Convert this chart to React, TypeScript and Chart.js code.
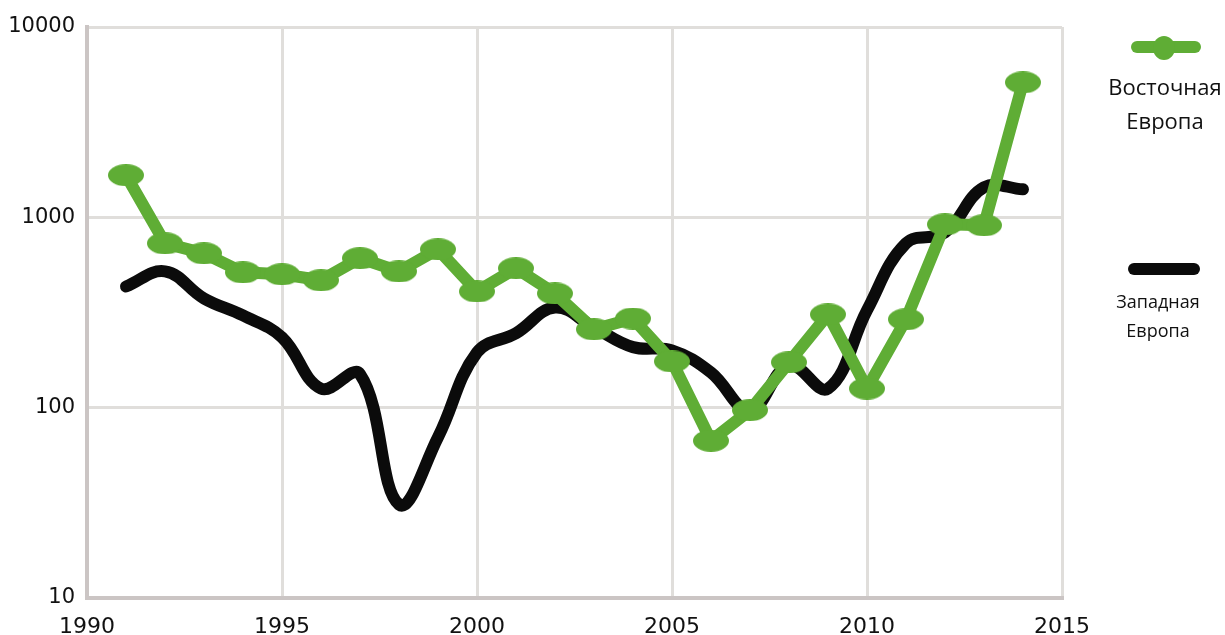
import React, { useEffect, useRef } from "react";
import { Chart, registerables } from "chart.js";

Chart.register(...registerables);

const years = [1991, 1992, 1993, 1994, 1995, 1996, 1997, 1998, 1999, 2000, 2001, 2002, 2003, 2004, 2005, 2006, 2007, 2008, 2009, 2010, 2011, 2012, 2013, 2014];
const eastEurope = [1665, 730, 647, 514, 502, 467, 610, 520, 679, 408, 540, 398, 258, 294, 175, 67, 97, 173, 309, 126, 291, 919, 908, 5117];
const westEurope = [433, 520, 375, 305, 234, 126, 150, 31, 70, 195, 246, 336, 264, 208, 200, 153, 97, 167, 126, 325, 730, 834, 1437, 1404];
const yTicks = [10, 100, 1000, 10000];
const eastLabel = ["Восточная", "Европа"];
const westLabel = ["Западная", "Европа"];

const GREEN = "#5fad35";
const BLACK = "#0b0b0b";
const TICK_FONT = "'DejaVu Sans', sans-serif";
const FONT = "'Open Sans', 'Noto Sans', sans-serif";

function makeEllipse(w: number, h: number, color: string) {
  const c = document.createElement("canvas");
  c.width = w;
  c.height = h;
  const ctx = c.getContext("2d")!;
  ctx.fillStyle = color;
  ctx.beginPath();
  ctx.ellipse(w / 2, h / 2, w / 2, h / 2, 0, 0, Math.PI * 2);
  ctx.fill();
  return c;
}

export default function App() {
  const ref = useRef<HTMLCanvasElement>(null);

  useEffect(() => {
    document.body.style.margin = "0";
    const marker = makeEllipse(36, 22, GREEN);
    const chart = new Chart(ref.current!, {
      type: "line",
      data: {
        datasets: [
          {
            label: "Восточная Европа",
            data: years.map((y, i) => ({ x: y, y: eastEurope[i] })),
            borderColor: GREEN,
            backgroundColor: GREEN,
            borderWidth: 12,
            tension: 0,
            pointStyle: marker as any,
            pointRadius: 12,
            borderJoinStyle: "round",
            borderCapStyle: "round",
          },
          {
            label: "Западная Европа",
            data: years.map((y, i) => ({ x: y, y: westEurope[i] })),
            borderColor: BLACK,
            backgroundColor: BLACK,
            borderWidth: 12,
            tension: 0.4,
            pointRadius: 0,
            borderJoinStyle: "round",
            borderCapStyle: "round",
          },
        ],
      },
      options: {
        animation: false,
        responsive: false,
        layout: { padding: { left: 0, right: 163, top: 27, bottom: 0 } },
        plugins: { legend: { display: false }, tooltip: { enabled: false } },
        scales: {
          x: {
            type: "linear",
            min: 1990,
            max: 2015,
            afterFit: (s: any) => {
              s.height = 37;
            },
            ticks: {
              stepSize: 5,
              padding: 16,
              color: "#111",
              font: { family: TICK_FONT, size: 22 },
              callback: (v: any) => String(v),
              maxRotation: 0,
            },
            grid: { color: "#e0dedb", lineWidth: 3, drawTicks: false },
            border: { color: "#cbc5c4", width: 4 },
          },
          y: {
            type: "logarithmic",
            min: 10,
            max: 10000,
            afterFit: (s: any) => {
              s.width = 87;
            },
            afterBuildTicks: (s: any) => {
              s.ticks = yTicks.map((v) => ({ value: v }));
            },
            ticks: {
              padding: 12,
              color: "#111",
              font: { family: TICK_FONT, size: 21 },
              callback: (v: any) => String(v),
            },
            grid: { color: "#e0dedb", lineWidth: 3, drawTicks: false },
            border: { color: "#cbc5c4", width: 4 },
          },
        },
      },
    });
    return () => chart.destroy();
  }, []);

  const textStyle = (size: number): React.CSSProperties => ({
    position: "absolute",
    fontFamily: FONT,
    fontSize: size,
    color: "#111",
    textAlign: "center",
    width: 140,
  });

  return (
    <div style={{ position: "relative", width: 1225, height: 635, background: "#fff", overflow: "hidden" }}>
      <canvas ref={ref} width={1225} height={635} style={{ display: "block" }} />
      {/* East legend */}
      <div style={{ position: "absolute", left: 1131, top: 41, width: 70, height: 12, borderRadius: 6, background: GREEN }} />
      <div style={{ position: "absolute", left: 1153, top: 36, width: 22, height: 24, borderRadius: "50%", background: GREEN }} />
      <div style={{ ...textStyle(22), left: 1095, top: 69, lineHeight: "34px" }}>
        {eastLabel[0]}
        <br />
        {eastLabel[1]}
      </div>
      {/* West legend */}
      <div style={{ position: "absolute", left: 1128, top: 263, width: 72, height: 12, borderRadius: 6, background: BLACK }} />
      <div style={{ ...textStyle(18), left: 1088, top: 287, lineHeight: "29px" }}>
        {westLabel[0]}
        <br />
        {westLabel[1]}
      </div>
    </div>
  );
}
